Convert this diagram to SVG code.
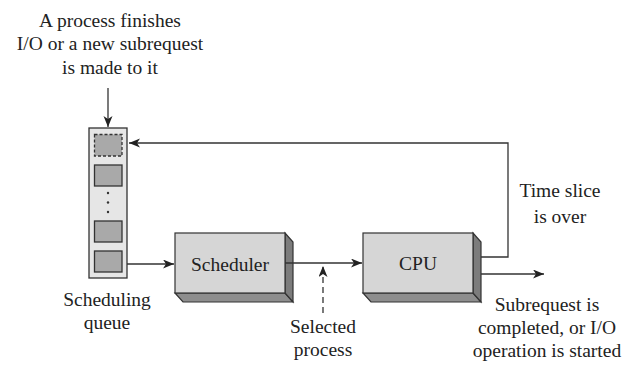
<svg xmlns="http://www.w3.org/2000/svg" width="622" height="365" viewBox="0 0 622 365">
  <defs>
    <style>
      text { font-family: "Liberation Serif", "Times New Roman", serif; font-size: 19.5px; fill: #222; text-anchor: middle; }
      .line { fill: none; stroke: #333; stroke-width: 1.3; }
      .dash { fill: none; stroke: #333; stroke-width: 1.3; stroke-dasharray: 6 4; }
      .front { fill: #d6d6d6; stroke: #333; stroke-width: 1.2; }
      .side { fill: #7c7c7c; stroke: #333; stroke-width: 1.2; }
      .bottom { fill: #8e8e8e; stroke: #333; stroke-width: 1.2; }
      .slot { fill: #a9a9a9; stroke: #333; stroke-width: 1.3; }
    </style>
    <marker id="arrow" markerWidth="12" markerHeight="10" refX="11" refY="4.5" orient="auto" markerUnits="userSpaceOnUse">
      <path d="M0,0 L11,4.5 L0,9 L3,4.5 Z" fill="#222"/>
    </marker>
  </defs>

  <!-- Incoming request label -->
  <g id="incoming-label">
    <text x="110" y="27">A process finishes</text>
    <text x="110" y="50">I/O or a new subrequest</text>
    <text x="110" y="74">is made to it</text>
  </g>

  <!-- Scheduling queue -->
  <g id="queue">
    <rect x="89" y="128" width="38" height="150" fill="#e6e6e6" stroke="#333" stroke-width="1.3"/>
    <rect x="94.5" y="134.5" width="27.5" height="21.5" fill="#a9a9a9" stroke="#333" stroke-width="1.3" stroke-dasharray="3 2"/>
    <rect class="slot" x="94.5" y="165" width="27.5" height="21"/>
    <circle cx="108" cy="193" r="1.2" fill="#333"/>
    <circle cx="108" cy="202.5" r="1.2" fill="#333"/>
    <circle cx="108" cy="212" r="1.2" fill="#333"/>
    <rect class="slot" x="94.5" y="221" width="27.5" height="21"/>
    <rect class="slot" x="94.5" y="251" width="27.5" height="21"/>
    <text x="107" y="306">Scheduling</text>
    <text x="107" y="329">queue</text>
  </g>

  <!-- Scheduler box -->
  <g id="scheduler">
    <polygon class="bottom" points="175,293 183,302 293,302 285,293"/>
    <polygon class="side" points="285,233 293,242 293,302 285,293"/>
    <rect class="front" x="175" y="233" width="110" height="60"/>
    <text x="230" y="271">Scheduler</text>
  </g>

  <!-- CPU box -->
  <g id="cpu">
    <polygon class="bottom" points="363,293 371,302 481,302 473,293"/>
    <polygon class="side" points="473,233 481,242 481,302 473,293"/>
    <rect class="front" x="363" y="233" width="110" height="60"/>
    <text x="418" y="270">CPU</text>
  </g>

  <!-- Other labels -->
  <g id="selected-label">
    <text x="323" y="333">Selected</text>
    <text x="323" y="356">process</text>
  </g>
  <g id="timeslice-label">
    <text x="560" y="197">Time slice</text>
    <text x="560" y="223">is over</text>
  </g>
  <g id="done-label">
    <text x="547" y="311">Subrequest is</text>
    <text x="547" y="334">completed, or I/O</text>
    <text x="547" y="357">operation is started</text>
  </g>

  <!-- Connectors -->
  <g id="connectors">
    <line class="line" x1="108" y1="88" x2="108" y2="127" marker-end="url(#arrow)"/>
    <line class="line" x1="127" y1="264" x2="174" y2="264" marker-end="url(#arrow)"/>
    <line class="line" x1="285" y1="263" x2="362" y2="263" marker-end="url(#arrow)"/>
    <line class="dash" x1="323" y1="313" x2="323" y2="266" marker-end="url(#arrow)"/>
    <polyline class="line" points="481,257 508,257 508,143 129,143" marker-end="url(#arrow)"/>
    <line class="line" x1="481" y1="274" x2="544" y2="274" marker-end="url(#arrow)"/>
  </g>
</svg>
